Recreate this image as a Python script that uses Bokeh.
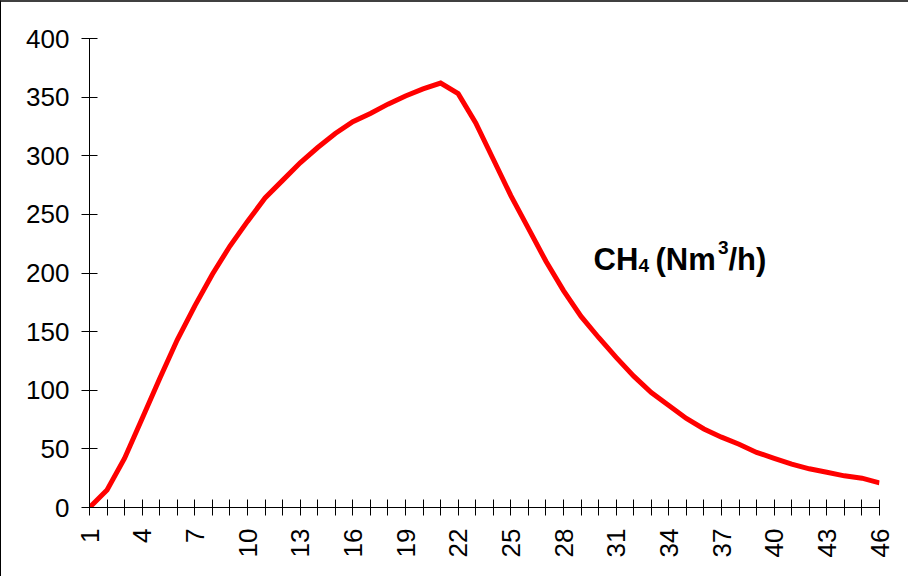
from bokeh.plotting import figure
from bokeh.models import Range1d, FixedTicker, Label
from bokeh.embed import file_html
from bokeh.resources import INLINE
import math

# ---- data ----
periods = list(range(1, 47))
ch4_flow = [0, 15, 42, 76, 110, 143, 172, 199, 223, 244,
            264, 279, 294, 307, 319, 329, 336, 344, 351, 357,
            362, 353, 328, 297, 266, 238, 210, 185, 163, 145,
            128, 112, 98, 87, 76, 67, 60, 54, 47, 42,
            37, 33, 30, 27, 25, 21]
x_tick_labels = [str(v) for v in range(1, 47, 3)]
y_ticks = list(range(0, 401, 50))

# ---- layout constants ----
W, H = 908, 576
BL, BR, BT, BB = 88, 30, 36, 71

p = figure(width=W, height=H, output_backend="svg", toolbar_location=None,
           x_range=Range1d(1, 46), y_range=Range1d(0, 400),
           min_border_left=BL, min_border_right=BR,
           min_border_top=BT, min_border_bottom=BB)
p.styles = {"border-top": "2px solid #404040", "border-left": "1px solid #000000"}
p.outline_line_color = None
p.xgrid.visible = False
p.ygrid.visible = False
p.background_fill_color = "white"
p.border_fill_color = "white"

FONT = "Liberation Sans"

# x axis
p.xaxis.ticker = FixedTicker(ticks=periods)
p.xaxis.major_label_overrides = {v: (str(v) if str(v) in x_tick_labels else "") for v in periods}
p.xaxis.major_label_orientation = math.pi / 2
p.xaxis.major_tick_in = 8
p.xaxis.major_tick_out = 8
p.xaxis.minor_tick_line_color = None
p.xaxis.major_label_standoff = 13
p.xaxis.major_label_text_font = FONT
p.xaxis.major_label_text_font_size = "26px"
p.xaxis.major_label_text_color = "black"
p.xaxis.axis_line_color = "black"
p.xaxis.major_tick_line_color = "black"

# y axis
p.yaxis.ticker = FixedTicker(ticks=y_ticks)
p.yaxis.major_tick_in = 8
p.yaxis.major_tick_out = 8
p.yaxis.minor_tick_line_color = None
p.yaxis.major_label_standoff = 12
p.yaxis.major_label_text_font = FONT
p.yaxis.major_label_text_font_size = "26px"
p.yaxis.major_label_text_color = "black"
p.yaxis.axis_line_color = "black"
p.yaxis.major_tick_line_color = "black"

p.line(periods, ch4_flow, line_color="#FF0000", line_width=5,
       line_join="miter")

# ---- annotation: CH4 (Nm3/h) ----
def xd(px):
    return 1 + (px - 96) * 45 / 790

def yd(py):
    return (513 - py) * 400 / 469

pieces = [
    ("CH", 600, 265, "31px"),
    ("4", 645, 271, "19px"),
    ("(Nm", 662, 265, "31px"),
    ("3", 724.5, 253, "19px"),
    ("/h)", 735, 265, "31px"),
]
for txt, px, py, fs in pieces:
    p.add_layout(Label(x=xd(px), y=yd(py), text=txt, text_font=FONT,
                       text_font_style="bold", text_font_size=fs,
                       text_color="black", text_baseline="alphabetic",
                       text_align="left"))

open("out.html", "w").write(file_html(p, INLINE))
